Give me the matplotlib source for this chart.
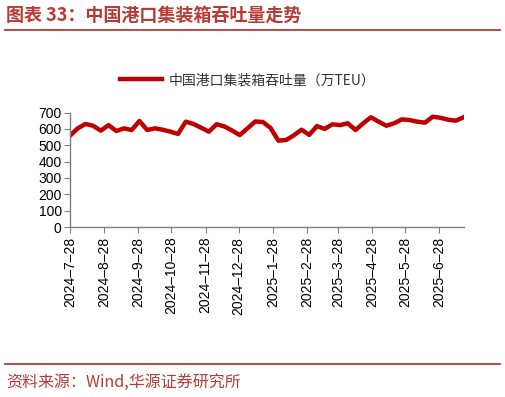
"""中国港口集装箱吞吐量走势图（周度，万TEU）。"""
import pandas as pd
import matplotlib
matplotlib.use('Agg')
import matplotlib.pyplot as plt
from matplotlib.lines import Line2D

plt.rcParams['font.family'] = ['Liberation Sans', 'Noto Sans CJK SC']

# 周度数据：2024-7-28 起，每 7 天一个点
start_date = '2024-07-28'
n_weeks = 52
throughput = [
    558, 603, 630, 619, 589, 623, 587, 603, 593, 648, 593, 603, 595, 583, 569, 644,
    630, 607, 583, 628, 615, 590, 562, 603, 645, 642, 605, 528, 532, 560, 595, 563,
    617, 600, 628, 623, 634, 593, 634, 671, 644, 619, 634, 658, 654, 644, 638, 674,
    668, 656, 650, 671,
]
tick_dates = ['2024-07-28', '2024-08-28', '2024-09-28', '2024-10-28', '2024-11-28',
              '2024-12-28', '2025-01-28', '2025-02-28', '2025-03-28', '2025-04-28',
              '2025-05-28', '2025-06-28']
y_ticks = [0, 100, 200, 300, 400, 500, 600, 700]

title = '图表 33：中国港口集装箱吞吐量走势'
series_name = '中国港口集装箱吞吐量（万TEU）'
source = '资料来源：Wind,华源证券研究所'

RED = '#C00000'
TITLE_RED = '#B83A35'
AXIS_GRAY = '#808080'

dates = pd.date_range(start_date, periods=n_weeks, freq='7D')
ticks = pd.to_datetime(tick_dates)

fig = plt.figure(figsize=(5.06, 3.97), dpi=100)
ax = fig.add_axes([0.1383, 0.4282, 0.7787, 0.2884])

line, = ax.plot(dates, throughput, color=RED, linewidth=3.2, solid_joinstyle='round',
                label=series_name)

ax.set_ylim(0, 700)
ax.set_yticks(y_ticks)
ax.set_xlim(dates[0], dates[0] + pd.Timedelta(days=357.4))
ax.set_xticks(ticks)
ax.set_xticklabels([f'{d.year}–{d.month}–{d.day}' for d in ticks], rotation=90,
                   fontsize=10)
ax.tick_params(axis='y', labelsize=10, length=4, color=AXIS_GRAY, pad=2)
ax.tick_params(axis='x', length=4, color=AXIS_GRAY, pad=3)

for side in ('top', 'right'):
    ax.spines[side].set_visible(False)
for side in ('left', 'bottom'):
    ax.spines[side].set_color(AXIS_GRAY)
    ax.spines[side].set_linewidth(1.0)

# 图例放在图上方居中
fig.legend(handles=[line], loc='center', bbox_to_anchor=(0.49, 0.798),
           frameon=False, handlelength=3.0, handletextpad=0.5,
           prop={'family': ['Noto Sans CJK SC'], 'size': 10}, labelcolor='#333333')

# 标题、来源及分隔线
fig.text(0.012, 0.961, title, color=TITLE_RED, fontsize=13, fontweight='bold',
         family=['Noto Sans CJK SC'], ha='left', va='center')
fig.add_artist(Line2D([0.01, 0.988], [1 - 29.5 / 397] * 2, color=TITLE_RED,
                      linewidth=1.3, transform=fig.transFigure))
fig.add_artist(Line2D([0.01, 0.988], [1 - 364 / 397] * 2, color=TITLE_RED,
                      linewidth=1.3, transform=fig.transFigure))
fig.text(0.012, 1 - 382 / 397, source, color=TITLE_RED, fontsize=11.5,
         family=['Noto Sans CJK SC'], ha='left', va='center')

fig.savefig('out.png', dpi=100)
